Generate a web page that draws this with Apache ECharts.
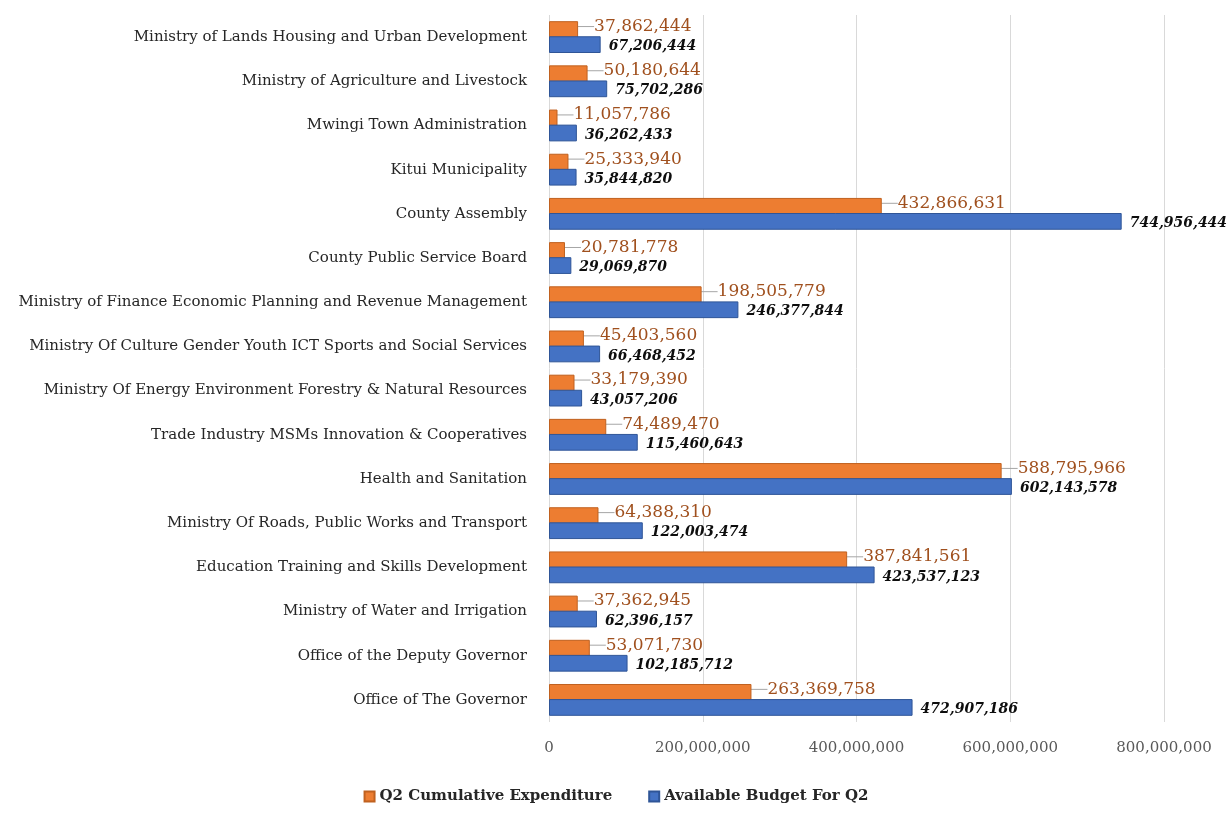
<!DOCTYPE html>
<html>
<head>
<meta charset="utf-8">
<script src="https://cdn.jsdelivr.net/npm/echarts@6/dist/echarts.min.js"></script>
<style>
  html, body { margin: 0; padding: 0; background: #fff; }
  #chart { width: 1232px; height: 813px; }
</style>
</head>
<body>
<div id="chart"></div>
<script>
const categories = [
    'Ministry of Lands Housing and Urban Development',
    'Ministry of Agriculture and Livestock',
    'Mwingi Town Administration',
    'Kitui Municipality',
    'County Assembly',
    'County Public Service Board',
    'Ministry of Finance Economic Planning and Revenue Management',
    'Ministry Of Culture Gender Youth ICT Sports and Social Services',
    'Ministry Of Energy Environment Forestry & Natural Resources',
    'Trade Industry MSMs Innovation & Cooperatives',
    'Health and Sanitation',
    'Ministry Of Roads, Public Works and Transport',
    'Education Training and Skills Development',
    'Ministry of Water and Irrigation',
    'Office of the Deputy Governor',
    'Office of The Governor'
];

const expenditure = [
    37862444, 50180644, 11057786, 25333940, 432866631, 20781778, 198505779, 45403560,
    33179390, 74489470, 588795966, 64388310, 387841561, 37362945, 53071730, 263369758
];

const budget = [
    67206444, 75702286, 36262433, 35844820, 744956444, 29069870, 246377844, 66468452,
    43057206, 115460643, 602143578, 122003474, 423537123, 62396157, 102185712, 472907186
];

const fmt = (v) => Number(v).toLocaleString('en-US');
const serif = '"DejaVu Serif", "Liberation Serif", serif';

const chart = echarts.init(document.getElementById('chart'), null, { renderer: 'canvas' });

const option = {
    backgroundColor: '#ffffff',
    animation: false,
    grid: { left: 549, right: 68, top: 15, bottom: 91, containLabel: false },
    legend: {
        bottom: 4,
        left: 'center',
        itemWidth: 10,
        itemHeight: 10,
        itemGap: 36,
        icon: 'rect',
        textStyle: { fontFamily: serif, fontSize: 15, fontWeight: 'bold', color: '#262626' },
        data: ['Q2 Cumulative Expenditure', 'Available Budget For Q2']
    },
    xAxis: {
        type: 'value',
        min: 0,
        max: 800000000,
        interval: 200000000,
        axisLine: { show: false },
        axisTick: { show: false },
        axisLabel: {
            formatter: fmt,
            margin: 19,
            fontFamily: serif,
            fontSize: 15,
            color: '#595959'
        },
        splitLine: { lineStyle: { color: '#d9d9d9', width: 1 } }
    },
    yAxis: {
        type: 'category',
        inverse: true,
        data: categories,
        axisLine: { show: false },
        axisTick: { show: false },
        axisLabel: {
            margin: 22,
            fontFamily: serif,
            fontSize: 15,
            color: '#262626'
        }
    },
    series: [
        {
            name: 'Q2 Cumulative Expenditure',
            type: 'bar',
            data: expenditure,
            barGap: '-10%',
            barCategoryGap: '28%',
            itemStyle: { color: '#ED7D31', borderColor: '#C0611F', borderWidth: 1 },
            label: {
                show: true,
                position: 'right',
                distance: 2,
                formatter: (p) => fmt(p.value),
                fontFamily: serif,
                fontSize: 17,
                color: '#A0501E'
            },
            labelLayout: { dx: 14, dy: -3 },
            labelLine: { show: true, length2: 0, lineStyle: { color: '#a6a6a6', width: 1 } }
        },
        {
            name: 'Available Budget For Q2',
            type: 'bar',
            data: budget,
            itemStyle: { color: '#4472C4', borderColor: '#2F5597', borderWidth: 1 },
            label: {
                show: true,
                position: 'right',
                distance: 8,
                formatter: (p) => fmt(p.value),
                fontFamily: serif,
                fontSize: 14,
                fontWeight: 'bold',
                fontStyle: 'italic',
                color: '#0d0d0d'
            },
            labelLayout: { dy: 2 }
        }
    ]
};

chart.setOption(option);
</script>
</body>
</html>
